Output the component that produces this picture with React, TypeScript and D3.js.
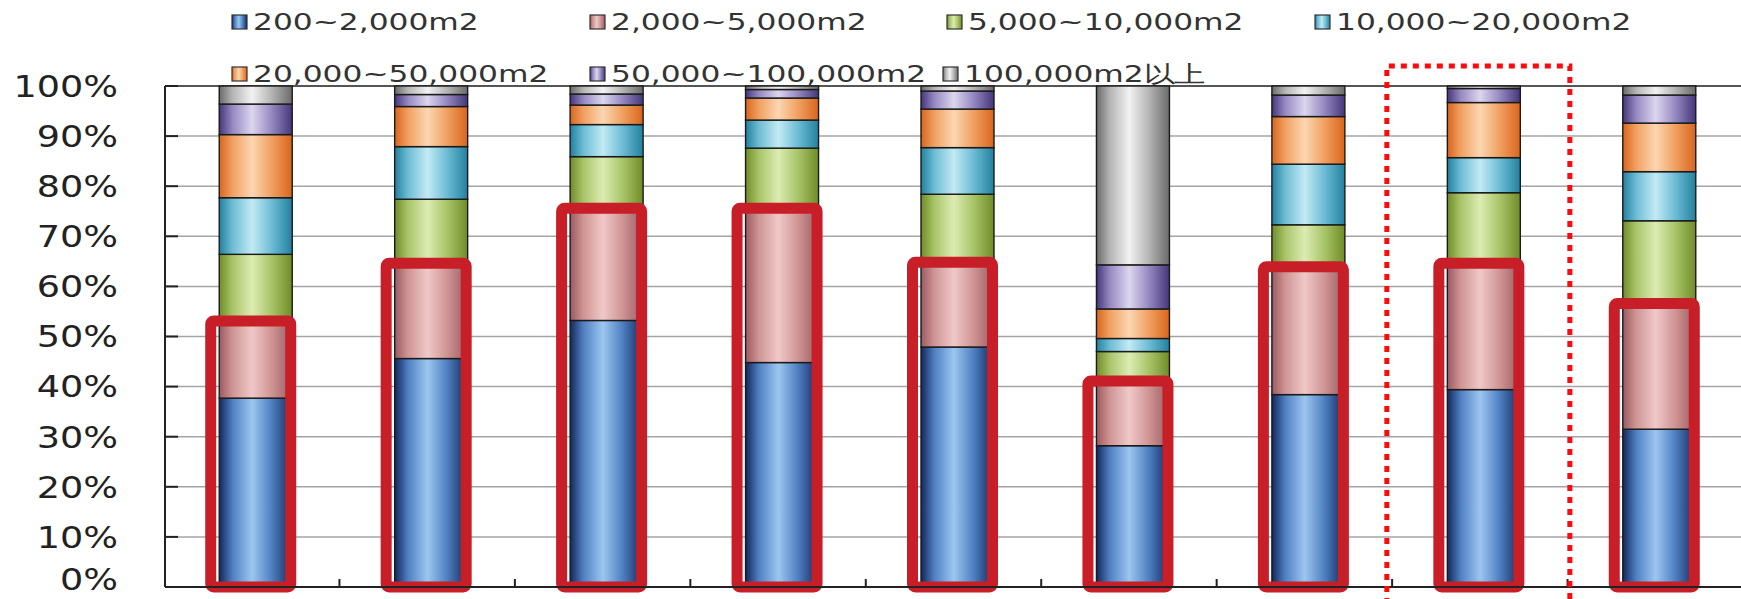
import React from "react";
import * as d3 from "d3";

// ---- data ----
const categories = ["1", "2", "3", "4", "5", "6", "7", "8", "9"];
const sizeClasses = [
  "200~2,000m2",
  "2,000~5,000m2",
  "5,000~10,000m2",
  "10,000~20,000m2",
  "20,000~50,000m2",
  "50,000~100,000m2",
  "100,000m2以上",
];
const s200_2000 = [37.7, 45.6, 53.2, 44.8, 47.9, 28.2, 38.4, 39.4, 31.5];
const s2000_5000 = [15.8, 19.4, 22.8, 31.2, 17.3, 13.3, 25.9, 25.6, 25.5];
const s5000_10000 = [12.9, 12.4, 9.9, 11.6, 13.2, 5.5, 8.0, 13.7, 16.1];
const s10000_20000 = [11.3, 10.5, 6.4, 5.6, 9.3, 2.6, 12.1, 7.0, 9.8];
const s20000_50000 = [12.6, 8.0, 3.9, 4.4, 7.7, 5.9, 9.5, 11.0, 9.7];
const s50000_100000 = [6.1, 2.4, 2.2, 1.7, 3.6, 8.8, 4.3, 2.8, 5.6];
const s100000plus = [3.6, 1.7, 1.6, 0.7, 1.0, 35.7, 1.8, 0.5, 1.8];
const yTickValues = [0, 10, 20, 30, 40, 50, 60, 70, 80, 90, 100];
const yTickLabels = ["0%", "10%", "20%", "30%", "40%", "50%", "60%", "70%", "80%", "90%", "100%"];
const highlightedCategory = "8";

const seriesValues = [s200_2000, s2000_5000, s5000_10000, s10000_20000, s20000_50000, s50000_100000, s100000plus];

// ---- styles ----
const W = 1741;
const H = 599;
const palette = [
  { edge: "#12285c", mid: "#4f7fc0", light: "#9cc6f0" },
  { edge: "#9a5a60", mid: "#cf9494", light: "#f0c8c8" },
  { edge: "#6f8c28", mid: "#a8c468", light: "#dcecb2" },
  { edge: "#23809e", mid: "#6cbcd4", light: "#c2eaf4" },
  { edge: "#d8651e", mid: "#f0a060", light: "#fcd6b2" },
  { edge: "#44367a", mid: "#9588c0", light: "#dcd6ee" },
  { edge: "#6a6a6a", mid: "#b4b4b4", light: "#f2f2f2" },
];
const legendPos = [
  { x: 232, row: 0 },
  { x: 590, row: 0 },
  { x: 947, row: 0 },
  { x: 1315, row: 0 },
  { x: 232, row: 1 },
  { x: 590, row: 1 },
  { x: 943, row: 1 },
];
const legendBaselines = [30, 82];

export default function App() {
  const rows = categories.map((c, i) => {
    const r: any = { cat: c };
    sizeClasses.forEach((k, j) => (r[k] = seriesValues[j][i]));
    return r;
  });
  const stacked = d3.stack().keys(sizeClasses)(rows);

  const x = d3
    .scaleBand()
    .domain(categories)
    .range([168, 1747])
    .paddingInner(0.584)
    .paddingOuter(0.292);
  const y = d3.scaleLinear().domain([0, 100]).range([587, 86]);
  const axisX = 165;
  const step = x.step();

  return (
    <svg
      width={W}
      height={H}
      style={{ position: "absolute", left: 0, top: 0, background: "#fff" }}
      xmlns="http://www.w3.org/2000/svg"
    >
      <defs>
        {palette.map((p, i) => (
          <linearGradient key={i} id={`g${i}`} x1="0" x2="1" y1="0" y2="0">
            <stop offset="0" stopColor={p.edge} />
            <stop offset="0.18" stopColor={p.mid} />
            <stop offset="0.45" stopColor={p.light} />
            <stop offset="0.72" stopColor={p.mid} />
            <stop offset="1" stopColor={p.edge} />
          </linearGradient>
        ))}
      </defs>
      <rect x={0} y={0} width={W} height={H} fill="#fff" />

      {/* gridlines */}
      {yTickValues.filter((v) => v > 0 && v < 100).map((v) => (
        <line key={v} x1={axisX} x2={W} y1={y(v)} y2={y(v)} stroke="#a4a4a4" strokeWidth={1.5} />
      ))}
      <line x1={axisX} x2={W} y1={y(100)} y2={y(100)} stroke="#555" strokeWidth={2} />

      {/* bars */}
      {stacked.map((s, si) => (
        <g key={s.key}>
          {s.map((d, i) => {
            const h = y(d[0]) - y(d[1]);
            if (h <= 0) return null;
            return (
              <rect
                key={i}
                x={x(categories[i])}
                y={y(d[1])}
                width={x.bandwidth()}
                height={h}
                fill={`url(#g${si})`}
                stroke="#1a1a1a"
                strokeWidth={1.4}
              />
            );
          })}
        </g>
      ))}

      {/* red boxes around the two smallest classes */}
      {categories.map((c, i) => {
        const top = stacked[1][i][1];
        const cx = (x(c) as number) + x.bandwidth() / 2 - 5;
        const yt = y(top) + 2;
        const yb = y(0);
        return (
          <rect
            key={c}
            x={cx - 40}
            y={yt}
            width={80}
            height={yb - yt}
            rx={3}
            fill="none"
            stroke="#c81e28"
            strokeWidth={11}
          />
        );
      })}

      {/* axes */}
      <line x1={axisX} x2={axisX} y1={y(100)} y2={y(0)} stroke="#222" strokeWidth={2} />
      <line x1={axisX} x2={W} y1={y(0)} y2={y(0)} stroke="#222" strokeWidth={2} />
      {yTickValues.map((v) => (
        <line key={v} x1={axisX} x2={axisX + 13} y1={y(v)} y2={y(v)} stroke="#222" strokeWidth={2} />
      ))}
      {categories.slice(1).map((c) => (
        <line
          key={c}
          x1={(x(c) as number) - (step - x.bandwidth()) / 2 - 4}
          x2={(x(c) as number) - (step - x.bandwidth()) / 2 - 4}
          y1={y(0)}
          y2={y(0) - 8}
          stroke="#222"
          strokeWidth={2}
        />
      ))}

      {/* y labels */}
      {yTickValues.map((v, i) => (
        <text
          key={v}
          transform={`translate(118,${Math.min(y(v) + 10.8, H - 9)}) scale(1.24,1)`}
          textAnchor="end"
          fontFamily="'DejaVu Sans', Verdana, sans-serif"
          fontSize={29.5}
          fill="#222"
        >
          {yTickLabels[i]}
        </text>
      ))}

      {/* dotted highlight */}
      {(() => {
        const cx = (x(highlightedCategory) as number) + x.bandwidth() / 2;
        return (
          <path
            d={`M${cx - 97},${H + 5} L${cx - 97},66 L${cx + 86},66 L${cx + 86},${H + 5}`}
            fill="none"
            stroke="#ff0a0a"
            strokeWidth={5}
            strokeDasharray="6 6"
          />
        );
      })()}

      {/* legend */}
      {sizeClasses.map((k, i) => {
        const p = legendPos[i];
        const base = legendBaselines[p.row];
        return (
          <g key={k}>
            <rect
              x={p.x}
              y={base - 15}
              width={15}
              height={14}
              fill={`url(#g${i})`}
              stroke="#333"
              strokeWidth={1.2}
            />
            <text
              transform={`translate(${p.x + 21},${base}) scale(1.36,1)`}
              fontFamily="'DejaVu Sans', Verdana, sans-serif"
              fontSize={23}
              fill="#333"
            >
              {k}
            </text>
          </g>
        );
      })}
    </svg>
  );
}
